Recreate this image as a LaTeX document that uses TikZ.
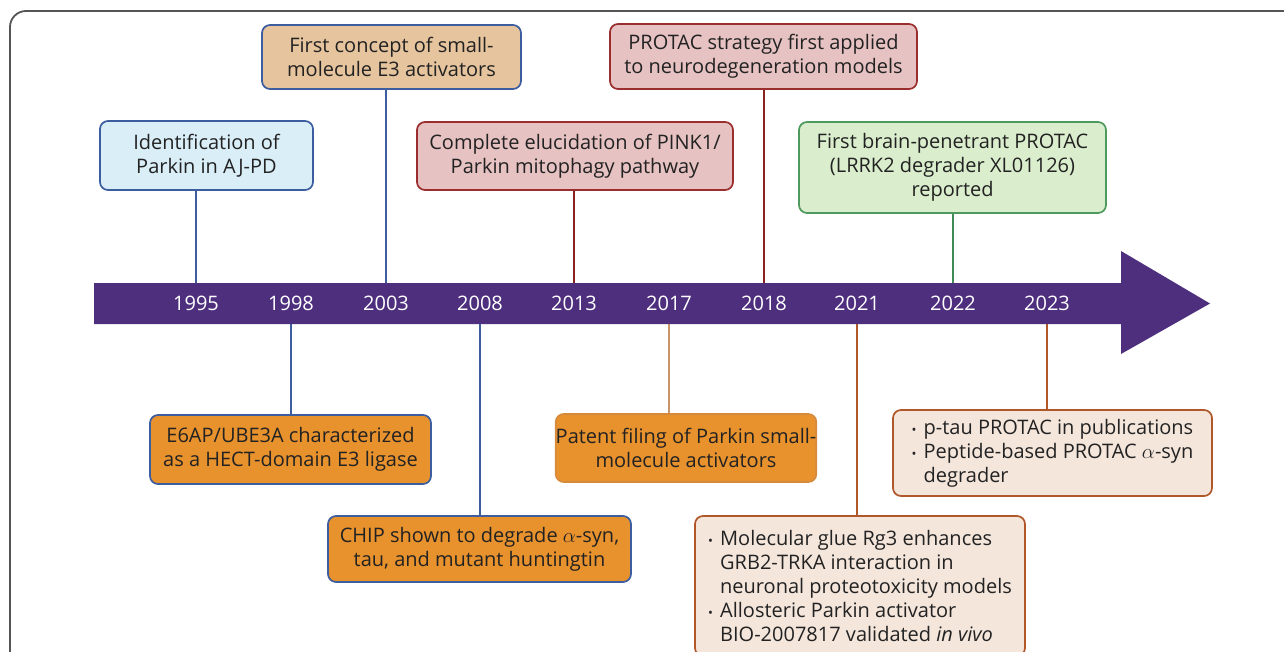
\documentclass[tikz,border=0pt]{standalone}
\usepackage{fontspec}
\setmainfont{Open Sans}
\definecolor{barpurple}{HTML}{4E2F7E}
\definecolor{txt}{HTML}{222222}
\definecolor{bblue}{HTML}{3D5E9E}
\definecolor{fblue}{HTML}{DAEEF8}
\definecolor{ftan}{HTML}{E6C49E}
\definecolor{fpink}{HTML}{E7C2C2}
\definecolor{bred}{HTML}{9A2E2E}
\definecolor{fgreen}{HTML}{DAEDCC}
\definecolor{bgreen}{HTML}{4E9A5E}
\definecolor{forange}{HTML}{E8922E}
\definecolor{borange}{HTML}{D68A3C}
\definecolor{fpeach}{HTML}{F5E6DC}
\definecolor{bbrown}{HTML}{B0582A}
\definecolor{ltan}{HTML}{C8956A}
\definecolor{lred}{HTML}{8A2222}
\definecolor{lgreen}{HTML}{3F8A55}
\definecolor{framegrey}{HTML}{555555}
\newcommand{\bl}{\makebox[12pt][l]{{\fontsize{13}{13}\selectfont\textbullet}}}
\newcommand{\ind}{\hspace*{12pt}}
\tikzset{
  evbox/.style={rounded corners=8pt, line width=1.7pt, align=center, text=txt,
    font=\fontsize{20}{24}\selectfont, inner sep=0pt},
  listbox/.style={evbox, align=left},
  conn/.style={line width=2.5pt},
  yearlbl/.style={text=white, font=\fontsize{20}{24}\selectfont, inner sep=0pt},
}
\begin{document}
\begin{tikzpicture}[x=1pt,y=-1pt]
\useasboundingbox (0,0) rectangle (1284,651);
\draw[framegrey, line width=1.8pt, rounded corners=16pt] (10,700) -- (10,11) -- (1330,11);
% timeline arrow
\fill[barpurple] (94,283) -- (1121,283) -- (1121,251) -- (1210,303.5) -- (1121,354) -- (1121,324) -- (94,324) -- cycle;
\foreach \yr/\x in {1995/196,1998/291,2003/386,2008/480,2013/574,2017/669,2018/764,2021/857,2022/953,2023/1047}{
  \node[yearlbl] (y\yr) at (\x,303.5) {\yr};
  \coordinate (t\yr) at (\x,283);
  \coordinate (b\yr) at (\x,324);
}
% top boxes
\node[evbox, draw=bblue, fill=fblue, minimum width=213pt, minimum height=69pt] (e1995) at (206.5,155.5)
  {Identification of\\Parkin in AJ-PD};
\node[evbox, draw=bblue, fill=ftan, minimum width=259pt, minimum height=64pt] (e2003) at (391.5,57)
  {First concept of small-\\molecule E3 activators};
\node[evbox, draw=bred, fill=fpink, minimum width=316pt, minimum height=68pt] (e2013) at (575,156)
  {Complete elucidation of PINK1/\\Parkin mitophagy pathway};
\node[evbox, draw=bred, fill=fpink, minimum width=307pt, minimum height=65pt] (e2018) at (763.5,56.5)
  {PROTAC strategy first applied\\to neurodegeneration models};
\node[evbox, draw=bgreen, fill=fgreen, minimum width=307pt, minimum height=91pt] (e2022) at (952.5,167.5)
  {First brain-penetrant PROTAC\\(LRRK2 degrader XL01126)\\reported};
% bottom boxes
\node[evbox, draw=bblue, fill=forange, minimum width=281pt, minimum height=69pt] (e1998) at (290.5,449.5)
  {E6AP/UBE3A characterized\\as a HECT-domain E3 ligase};
\node[evbox, draw=bblue, fill=forange, minimum width=303pt, minimum height=66pt] (e2008) at (479.5,549)
  {CHIP shown to degrade $\alpha$-syn,\\tau, and mutant huntingtin};
\node[evbox, draw=borange, fill=forange, minimum width=258pt, minimum height=68pt] (e2017) at (686,448)
  {Patent filing of Parkin small-\\molecule activators};
\node[listbox, draw=bbrown, fill=fpeach, minimum width=330pt, minimum height=140pt] (e2021) at (860,586)
  {\bl Molecular glue Rg3 enhances\\\ind GRB2-TRKA interaction in\\\ind neuronal proteotoxicity models\\\bl Allosteric Parkin activator\\\ind BIO-2007817 validated \textit{in vivo}};
\node[listbox, draw=bbrown, fill=fpeach, minimum width=319pt, minimum height=86pt] (e2023) at (1052.5,453)
  {\bl p-tau PROTAC in publications\\\bl Peptide-based PROTAC $\alpha$-syn\\\ind degrader};
% connectors
\draw[conn, bblue] (e1995.south -| t1995) -- (t1995);
\draw[conn, bblue] (e2003.south -| t2003) -- (t2003);
\draw[conn, lred] (e2013.south -| t2013) -- (t2013);
\draw[conn, lred] (e2018.south -| t2018) -- (t2018);
\draw[conn, lgreen] (e2022.south -| t2022) -- (t2022);
\draw[conn, bblue] (b1998) -- (b1998 |- e1998.north);
\draw[conn, bblue] (b2008) -- (b2008 |- e2008.north);
\draw[conn, ltan] (b2017) -- (b2017 |- e2017.north);
\draw[conn, bbrown] (b2021) -- (b2021 |- e2021.north);
\draw[conn, bbrown] (b2023) -- (b2023 |- e2023.north);
\end{tikzpicture}
\end{document}
